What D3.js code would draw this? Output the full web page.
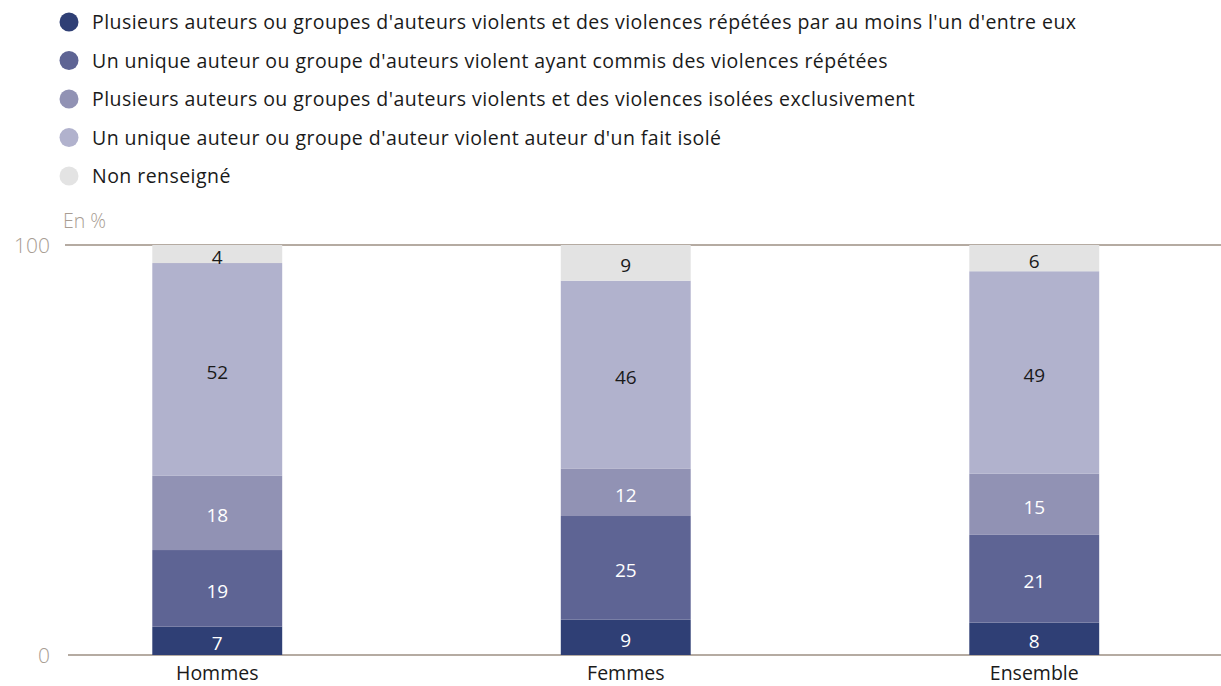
<!DOCTYPE html>
<html><head><meta charset="utf-8">
<script src="https://cdn.jsdelivr.net/npm/d3@7"></script>
<style>body{margin:0;background:#fff;} svg{display:block;font-family:"Open Sans", Lato, sans-serif;font-weight:400;}</style>
</head><body><svg id="c" width="1221" height="686"></svg>
<script>
const categories = ["Hommes", "Femmes", "Ensemble"];
const seriesNames = [
  "Plusieurs auteurs ou groupes d'auteurs violents et des violences répétées par au moins l'un d'entre eux",
  "Un unique auteur ou groupe d'auteurs violent ayant commis des violences répétées",
  "Plusieurs auteurs ou groupes d'auteurs violents et des violences isolées exclusivement",
  "Un unique auteur ou groupe d'auteur violent auteur d'un fait isolé",
  "Non renseigné"
];
const plusieursRepetees = [6.9, 8.6, 7.9];
const uniqueRepetees    = [18.7, 25.3, 21.4];
const plusieursIsolees  = [18.1, 11.6, 14.9];
const uniqueIsole       = [51.9, 45.8, 49.4];
const nonRenseigne      = [4.4, 8.7, 6.4];
const yTicks = [0, 100];
const colors = ["#2f3f75", "#5e6494", "#9192b4", "#b1b2cd", "#e3e3e3"];
const labelColors = ["#fff", "#fff", "#fff", "#1a1a1a", "#1a1a1a"];

const seriesValues = [plusieursRepetees, uniqueRepetees, plusieursIsolees, uniqueIsole, nonRenseigne];
const keys = seriesNames.map((d, i) => "s" + i);
const table = categories.map((c, j) => {
  const row = {cat: c};
  keys.forEach((k, i) => row[k] = seriesValues[i][j]);
  return row;
});
const stacked = d3.stack().keys(keys)(table);

const svg = d3.select("#c");
const x = d3.scaleBand().domain(categories).range([13, 1238.5]).paddingInner(0.682).paddingOuter(0.341);
const y = d3.scaleLinear().domain([0, 100]).range([655, 245]);

const axisColor = "#b5aba2";
svg.append("g").selectAll("line").data(yTicks).join("line")
  .attr("x1", d => d === 0 ? 68 : 65).attr("x2", 1221)
  .attr("y1", d => y(d)).attr("y2", d => y(d))
  .attr("stroke", axisColor).attr("stroke-width", 2);
svg.append("g").selectAll("text").data(yTicks).join("text")
  .attr("x", 50).attr("y", d => y(d)).attr("dy", "0.38em")
  .attr("text-anchor", "end").attr("fill", "#a89d93").attr("font-size", 21)
  .attr("font-weight", 300).text(d => d);
svg.append("text").attr("x", 63).attr("y", 228).attr("fill", "#a89d93")
  .attr("font-size", 19.5).attr("font-weight", 300).text("En %");

const g = svg.append("g");
stacked.forEach((s, i) => {
  g.append("g").selectAll("rect").data(s).join("rect")
    .attr("x", d => x(d.data.cat)).attr("width", x.bandwidth())
    .attr("y", d => y(d[1])).attr("height", d => y(d[0]) - y(d[1]))
    .attr("fill", colors[i]);
  g.append("g").selectAll("text").data(s).join("text")
    .attr("x", d => x(d.data.cat) + x.bandwidth() / 2)
    .attr("y", d => (y(d[0]) + y(d[1])) / 2).attr("dy", "0.5em")
    .attr("text-anchor", "middle").attr("font-size", 19)
    .attr("fill", labelColors[i])
    .text(d => Math.round(d[1] - d[0]));
});

svg.append("g").selectAll("text").data(categories).join("text")
  .attr("x", d => x(d) + x.bandwidth() / 2).attr("y", 680)
  .attr("text-anchor", "middle").attr("font-size", 19.5).attr("fill", "#1a1a1a")
  .text(d => d);

const leg = svg.append("g").selectAll("g").data(seriesNames).join("g")
  .attr("transform", (d, i) => `translate(0,${22 + i * 38.5})`);
leg.append("circle").attr("cx", 69).attr("cy", 0).attr("r", 9.5).attr("fill", (d, i) => colors[i]);
leg.append("text").attr("x", 92).attr("y", 0).attr("dy", "0.36em")
  .attr("font-size", 19.5).attr("letter-spacing", "0.45px").attr("fill", "#1a1a1a").text(d => d);
</script></body></html>
